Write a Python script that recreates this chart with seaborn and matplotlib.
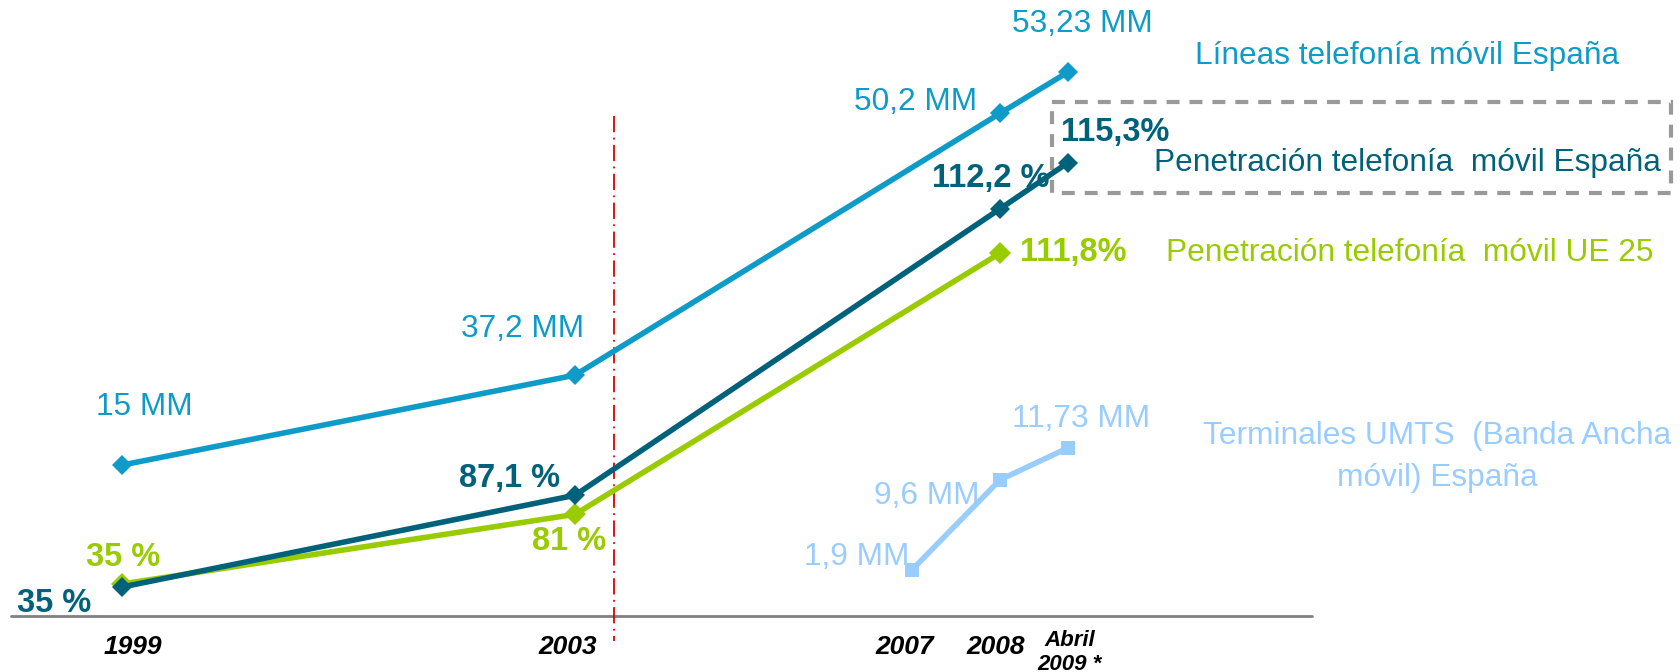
import numpy as np
import pandas as pd
import seaborn as sns
import matplotlib.pyplot as plt
from matplotlib.patches import Rectangle

# periods on the x axis (the source chart spaces them by hand, not by time)
periods = ['1999', '2003', '2007', '2008', 'Abril\n2009 *']
period_x = [122, 575, 912, 1000, 1068]

# values printed next to each point
lineas_labels = ['15 MM', '37,2 MM', '50,2 MM', '53,23 MM']
pen_es_labels = ['35 %', '87,1 %', '112,2 %', '115,3%']
pen_ue_labels = ['35 %', '81 %', '111,8%']
umts_labels = ['1,9 MM', '9,6 MM', '11,73 MM']

# drawn height of each point (the chart has no y scale, units 0-100 above baseline)
lineas_level = [24.5, 39.1, 81.6, 88.3]
pen_es_level = [4.7, 19.6, 66.1, 73.6]
pen_ue_level = [5.2, 16.5, 58.9]
umts_level = [7.5, 22.1, 27.3]

lineas_periods = ['1999', '2003', '2008', 'Abril\n2009 *']
pen_es_periods = ['1999', '2003', '2008', 'Abril\n2009 *']
pen_ue_periods = ['1999', '2003', '2008']
umts_periods = ['2007', '2008', 'Abril\n2009 *']

c_blue = '#0E9BC7'
c_dark = '#00627A'
c_green = '#99CC00'
c_light = '#99CCFF'

sns.set_style('white')
plt.rcParams['font.family'] = ['Liberation Sans', 'DejaVu Sans']
plt.rcParams['text.color'] = 'black'

fig = plt.figure(figsize=(16.8, 6.72), dpi=100)
ax = fig.add_axes([0, 0, 1, 1])
# layout layer in pixel units for texts and decorations
lay = fig.add_axes([0, 0, 1, 1], zorder=-1)
lay.set_xlim(0, 1680)
lay.set_ylim(672, 0)
lay.axis('off')

pos = dict(zip(periods, period_x))


def series_df(per, level):
    return pd.DataFrame({'x': [pos[p] for p in per], 'y': level})


for per, lev, col, mk, ms in [
        (lineas_periods, lineas_level, c_blue, 'D', 10),
        (pen_ue_periods, pen_ue_level, c_green, 'D', 11),
        (pen_es_periods, pen_es_level, c_dark, 'D', 10),
        (umts_periods, umts_level, c_light, 's', 10)]:
    sns.lineplot(data=series_df(per, lev), x='x', y='y', ax=ax, color=col,
                 linewidth=4.0, marker=mk, markersize=ms,
                 markeredgewidth=0, sort=False)

ax.set_xlim(0, 1680)
ax.set_ylim(-9.09, 100)
ax.axis('off')

# baseline and 2003 separator
lay.plot([11, 1312], [616, 616], color='#808080', lw=2)
lay.plot([614, 614], [116, 641], color='#E00000', lw=1.3,
         linestyle=(0, (9, 3, 1, 3)))
lay.add_patch(Rectangle((1052, 102), 619, 91, fill=False, edgecolor='#999999',
                        lw=3, linestyle=(0, (3.1, 2.4))))

# period labels
for p, x in zip(periods[:4], [133, 568, 905, 996]):
    lay.text(x, 647, p, ha='center', va='center', fontsize=19,
             fontweight='bold', fontstyle='italic', color='black')
lay.text(1070, 641, 'Abril', ha='center', va='center', fontsize=16,
         fontweight='bold', fontstyle='italic', color='black')
lay.text(1069, 664, '2009 *', ha='center', va='center', fontsize=16,
         fontweight='bold', fontstyle='italic', color='black')

fs = 22.8
fb = 23.5
# point value labels: (x, y, alignment)
lineas_pos = [(96, 407, 'left'), (461, 329, 'left'), (977, 102, 'right'),
              (1012, 24, 'left')]
pen_es_pos = [(91, 603, 'right'), (560, 479, 'right'), (1050, 179, 'right'),
              (1061, 133, 'left')]
pen_ue_pos = [(86, 557, 'left'), (606, 541, 'right'), (1020, 253, 'left')]
umts_pos = [(909, 557, 'right'), (980, 496, 'right'), (1012, 419, 'left')]

for s, (x, y, h) in zip(lineas_labels, lineas_pos):
    lay.text(x, y, s, ha=h, va='center', fontsize=fs, color=c_blue)
for s, (x, y, h) in zip(pen_es_labels, pen_es_pos):
    lay.text(x, y, s, ha=h, va='center', fontsize=fb, color=c_dark,
             fontweight='bold')
for s, (x, y, h) in zip(pen_ue_labels, pen_ue_pos):
    lay.text(x, y, s, ha=h, va='center', fontsize=fb, color=c_green,
             fontweight='bold')
for s, (x, y, h) in zip(umts_labels, umts_pos):
    lay.text(x, y, s, ha=h, va='center', fontsize=fs, color=c_light)

# series names
lay.text(1195, 56, 'Líneas telefonía móvil España', ha='left', va='center',
         fontsize=fs, color=c_blue)
lay.text(1154, 163, 'Penetración telefonía  móvil España', ha='left',
         va='center', fontsize=fs, color=c_dark)
lay.text(1166, 253, 'Penetración telefonía  móvil UE 25', ha='left',
         va='center', fontsize=fs, color=c_green)
lay.text(1437, 436, 'Terminales UMTS  (Banda Ancha', ha='center', va='center',
         fontsize=fs, color=c_light)
lay.text(1437, 478, 'móvil) España', ha='center', va='center', fontsize=fs,
         color=c_light)

fig.savefig('out.png', dpi=100)
